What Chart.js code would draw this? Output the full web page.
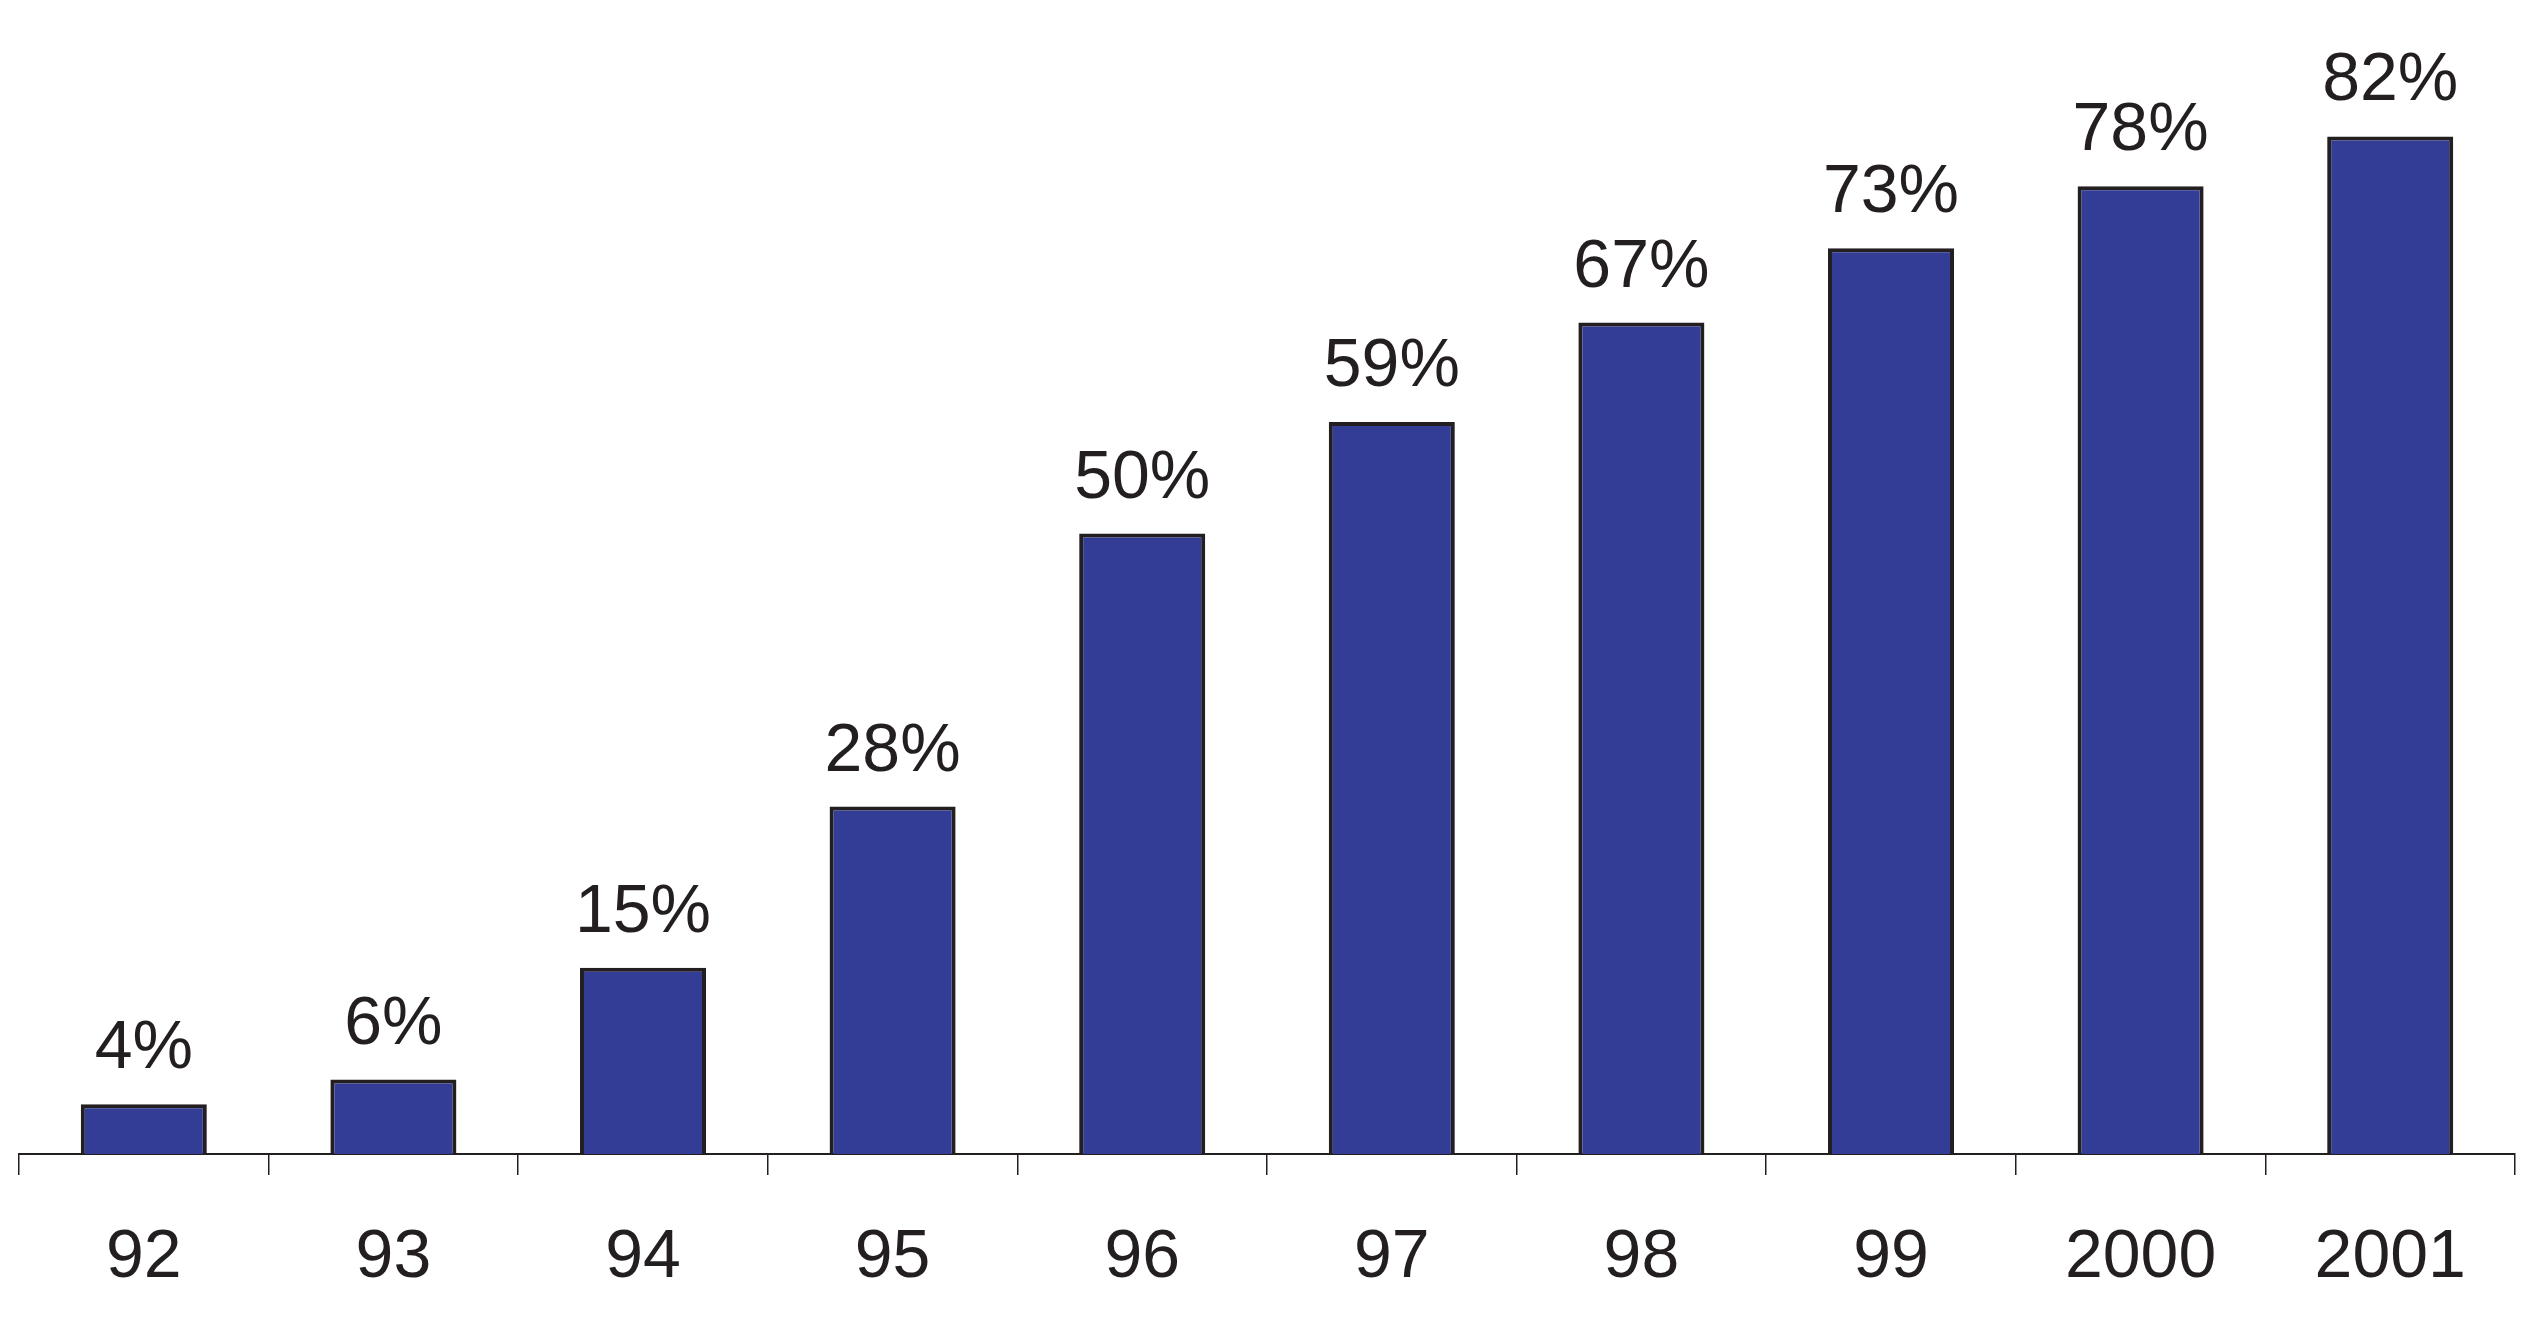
<!DOCTYPE html>
<html>
<head>
<meta charset="utf-8">
<script src="https://cdn.jsdelivr.net/npm/chart.js@4.4.0/dist/chart.umd.min.js"></script>
<style>
    html, body { margin: 0; padding: 0; background: #ffffff; }
    #wrap { width: 2539px; height: 1328px; }
</style>
</head>
<body>
<div id="wrap"><canvas id="chart" width="2539" height="1328"></canvas></div>
<script>
// Datos del gráfico
const years = ['92', '93', '94', '95', '96', '97', '98', '99', '2000', '2001'];
const percentages = [4, 6, 15, 28, 50, 59, 67, 73, 78, 82];

const textColor = '#231f20';
const barColor = '#333d96';
const fontFamily = '"Liberation Sans", Arial, Helvetica, sans-serif';

// Etiquetas de valor encima de cada barra
const valueLabels = {
    id: 'valueLabels',
    afterDatasetsDraw(chart) {
        const ctx = chart.ctx;
        const meta = chart.getDatasetMeta(0);
        ctx.save();
        ctx.font = '68px ' + fontFamily;
        ctx.fillStyle = textColor;
        ctx.textAlign = 'center';
        ctx.textBaseline = 'alphabetic';
        meta.data.forEach((bar, i) => {
            ctx.fillText(percentages[i] + '%', bar.x, bar.y - 36);
        });
        ctx.restore();
    }
};

new Chart(document.getElementById('chart').getContext('2d'), {
    type: 'bar',
    data: {
        labels: years,
        datasets: [{
            data: percentages,
            backgroundColor: barColor,
            borderColor: textColor,
            borderWidth: 4,
            borderSkipped: 'start',
            categoryPercentage: 1,
            barPercentage: 0.505
        }]
    },
    options: {
        responsive: false,
        animation: false,
        layout: {
            padding: { left: 19, right: 24, top: 0, bottom: 0 }
        },
        plugins: {
            legend: { display: false },
            tooltip: { enabled: false }
        },
        scales: {
            y: {
                display: false,
                min: 0,
                max: 93
            },
            x: {
                afterFit(scale) {
                    scale.height = 174;
                },
                border: { display: true, color: textColor, width: 2 },
                grid: {
                    offset: true,
                    drawOnChartArea: false,
                    drawTicks: true,
                    tickLength: 21,
                    color: textColor,
                    lineWidth: 1.5
                },
                ticks: {
                    color: textColor,
                    padding: 42,
                    font: { family: fontFamily, size: 68 }
                }
            }
        }
    },
    plugins: [valueLabels]
});
</script>
</body>
</html>
